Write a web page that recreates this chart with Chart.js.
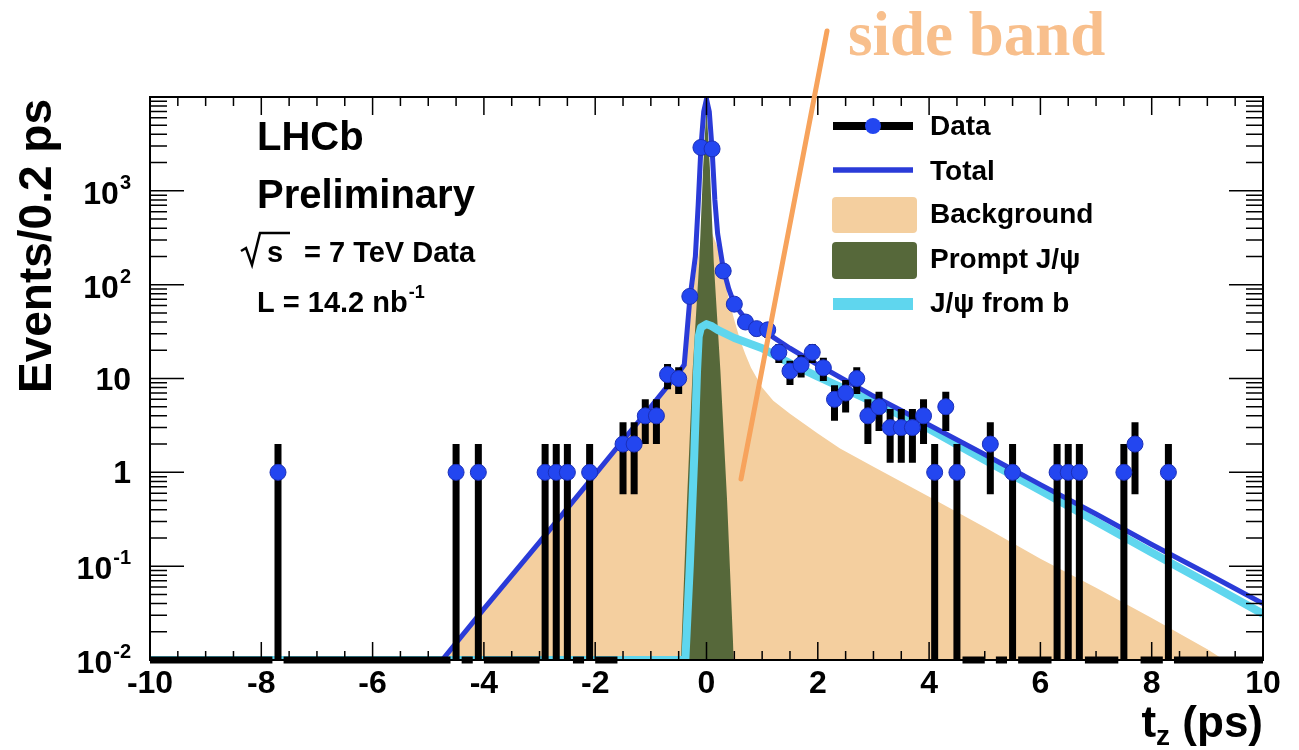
<!DOCTYPE html>
<html>
<head>
<meta charset="utf-8">
<script src="https://cdn.jsdelivr.net/npm/chart.js@4.4.0/dist/chart.umd.min.js"></script>
<style>
    html, body { margin: 0; padding: 0; background: #fff; }
    #wrap { width: 1299px; height: 750px; }
</style>
</head>
<body>
<div id="wrap"><canvas id="tzChart"></canvas></div>
<script>
// histogram of t_z: 100 bins of 0.2 ps between -10 and 10
let binLow = -10;
let binWidth = 0.2;
let counts = [
    0, 0, 0, 0, 0, 0, 0, 0, 0, 0,
    0, 1, 0, 0, 0, 0, 0, 0, 0, 0,
    0, 0, 0, 0, 0, 0, 0, 1, 0, 1,
    0, 0, 0, 0, 0, 1, 1, 1, 0, 1,
    0, 0, 2, 2, 4, 4, 11, 10, 75, 2900,
    2800, 140, 62, 40, 34, 33, 19, 12, 14, 19,
    13, 6, 7, 10, 4, 5, 3, 3, 3, 4,
    1, 5, 1, 0, 0, 2, 0, 1, 0, 0,
    0, 1, 1, 1, 0, 0, 0, 1, 2, 0,
    0, 1, 0, 0, 0, 0, 0, 0, 0, 0
];

// fit components, sampled along t_z (ps)
let tTotal = [-4.75, -4, -3, -2, -1.5, -1, -0.7, -0.5, -0.4, -0.3, -0.2, -0.15, -0.1, -0.05, 0, 0.05, 0.1, 0.15, 0.2, 0.3, 0.4, 0.5, 0.7, 1, 1.5, 2, 3, 4, 5, 6, 7, 8, 9, 10];
let total = [0.01, 0.035, 0.18, 0.95, 2.2, 5, 8.3, 11.5, 14, 70, 200, 700, 2900, 7000, 9500, 7000, 2800, 800, 350, 150, 90, 62, 43, 33, 21, 14, 6.5, 3.2, 1.55, 0.74, 0.36, 0.17, 0.083, 0.04];

let tBkg = [-4.75, -4, -3, -2, -1.5, -1, -0.7, -0.5, -0.4, -0.3, -0.2, -0.1, 0, 0.1, 0.2, 0.3, 0.4, 0.5, 0.6, 0.7, 0.8, 1, 1.2, 1.5, 2, 2.4, 3, 4, 5, 6, 7, 8, 9, 9.3];
let bkg = [0.01, 0.035, 0.18, 0.95, 2.2, 5, 8, 11.5, 13, 50, 130, 300, 400, 350, 250, 130, 70, 42, 26, 18, 13, 8, 5.8, 4.2, 2.6, 1.8, 1.15, 0.55, 0.26, 0.12, 0.059, 0.028, 0.013, 0.01];

let tPrompt = [-0.46, -0.35, -0.25, -0.13, -0.06, 0, 0.06, 0.13, 0.25, 0.37, 0.49];
let prompt = [0.01, 0.5, 12, 175, 1800, 8000, 1800, 175, 12, 0.5, 0.01];

let tFromB = [-10, -0.38, -0.3, -0.22, -0.17, -0.14, -0.1, 0, 0.1, 0.2, 0.5, 1, 1.5, 2, 3, 4, 5, 6, 7, 8, 9, 10];
let fromB = [0.01, 0.01, 0.1, 1.5, 12, 28, 35, 38, 36, 33, 27, 21, 14.5, 10.5, 5.6, 2.9, 1.35, 0.64, 0.3, 0.14, 0.066, 0.031];

// axis labels
let xTicks = [-10, -8, -6, -4, -2, 0, 2, 4, 6, 8, 10];
let yDecades = [-2, -1, 0, 1, 2, 3];

const FONT = "'Liberation Sans', Arial, Helvetica, sans-serif";
const BLUE = "#2a3bd8";
const MARKER = "#2346f0";
const TAN = "#f4cf9f";
const OLIVE = "#56683a";
const CYAN = "#5fd6ee";

function pts(xs, ys) {
    return xs.map((x, i) => ({ x: x, y: ys[i] }));
}

let binCenter = counts.map((c, i) => binLow + binWidth * (i + 0.5));
let dataPts = [];
counts.forEach((c, i) => { if (c > 0) dataPts.push({ x: binCenter[i], y: c }); });

// Poisson error bars, zero bins drawn along the floor
function drawErrorBars(chart) {
    const ctx = chart.ctx, a = chart.chartArea;
    const xs = chart.scales.x, ys = chart.scales.y;
    ctx.save();
    ctx.strokeStyle = "#000";
    ctx.lineWidth = 7;
    ctx.lineCap = "butt";
    ctx.beginPath();
    counts.forEach((n, i) => {
        let x0 = xs.getPixelForValue(binCenter[i] - binWidth / 2);
        let x1 = xs.getPixelForValue(binCenter[i] + binWidth / 2);
        let xc = xs.getPixelForValue(binCenter[i]);
        if (n === 0) {
            ctx.moveTo(x0, a.bottom);
            ctx.lineTo(x1, a.bottom);
            return;
        }
        let err = Math.sqrt(n);
        let lo = n - err > ys.min ? ys.getPixelForValue(n - err) : a.bottom;
        let hi = ys.getPixelForValue(n + err);
        let yc = ys.getPixelForValue(n);
        ctx.moveTo(xc, lo);
        ctx.lineTo(xc, hi);
        ctx.moveTo(x0, yc);
        ctx.lineTo(x1, yc);
    });
    ctx.stroke();
    ctx.restore();
}

function sizedFont(px) {
    return "bold " + px + "px " + FONT;
}

function drawYLabel(ctx, e, xRight, y) {
    ctx.textAlign = "right";
    ctx.textBaseline = "alphabetic";
    if (e === 0 || e === 1) {
        ctx.font = sizedFont(32);
        ctx.fillText(e === 0 ? "1" : "10", xRight, y + 11);
        return;
    }
    let sup = String(e);
    ctx.font = sizedFont(20);
    let w = ctx.measureText(sup).width;
    ctx.fillText(sup, xRight, y - 2);
    ctx.font = sizedFont(32);
    ctx.fillText("10", xRight - w - 1, y + 13);
}

const frame = {
    id: "frame",
    beforeDatasetDraw(chart, args) {
        if (args.index === 0) drawErrorBars(chart);
    },
    afterDraw(chart) {
        const ctx = chart.ctx, a = chart.chartArea;
        const xs = chart.scales.x, ys = chart.scales.y;
        ctx.save();

        // frame and ticks on all four sides
        ctx.strokeStyle = "#000";
        ctx.lineWidth = 2;
        ctx.strokeRect(a.left, a.top, a.right - a.left, a.bottom - a.top);
        ctx.lineWidth = 1.5;
        ctx.beginPath();
        for (let i = 0; i <= 40; i++) {
            let px = xs.getPixelForValue(-10 + i * 0.5);
            let len = i % 4 === 0 ? 18 : 9;
            ctx.moveTo(px, a.bottom); ctx.lineTo(px, a.bottom - len);
            ctx.moveTo(px, a.top); ctx.lineTo(px, a.top + len);
        }
        for (let e = -2; e <= 3; e++) {
            for (let m = 1; m <= 9; m++) {
                let py = ys.getPixelForValue(m * Math.pow(10, e));
                let len = m === 1 ? 34 : 17;
                ctx.moveTo(a.left, py); ctx.lineTo(a.left + len, py);
                ctx.moveTo(a.right, py); ctx.lineTo(a.right - len, py);
            }
        }
        ctx.stroke();

        // tick labels
        ctx.fillStyle = "#000";
        ctx.font = sizedFont(32);
        ctx.textAlign = "center";
        ctx.textBaseline = "alphabetic";
        xTicks.forEach(t => ctx.fillText(String(t), xs.getPixelForValue(t), a.bottom + 33));
        yDecades.forEach(e => drawYLabel(ctx, e, 131, ys.getPixelForValue(Math.pow(10, e))));

        // axis titles
        ctx.save();
        ctx.translate(51, (a.top + 395) / 2);
        ctx.rotate(-Math.PI / 2);
        ctx.font = sizedFont(46);
        ctx.textAlign = "center";
        ctx.fillText("Events/0.2 ps", 0, 0);
        ctx.restore();

        ctx.textAlign = "left";
        ctx.font = sizedFont(44);
        let wT = ctx.measureText("t").width;
        let wP = ctx.measureText(" (ps)").width;
        ctx.font = sizedFont(28);
        let wZ = ctx.measureText("z").width;
        let tx = a.right - (wT + wZ + wP);
        ctx.font = sizedFont(44);
        ctx.fillText("t", tx, 737);
        ctx.fillText(" (ps)", tx + wT + wZ, 737);
        ctx.font = sizedFont(28);
        ctx.fillText("z", tx + wT, 745);

        // experiment labels
        ctx.font = sizedFont(40);
        ctx.fillText("LHCb", 257, 150);
        ctx.fillText("Preliminary", 257, 208);
        ctx.font = sizedFont(29);
        ctx.fillText("s", 267, 262);
        ctx.fillText("= 7 TeV Data", 304, 262);
        ctx.lineWidth = 2.5;
        ctx.beginPath();
        ctx.moveTo(241, 251); ctx.lineTo(246, 248); ctx.lineTo(252, 265);
        ctx.lineTo(260, 233); ctx.lineTo(290, 233);
        ctx.stroke();
        ctx.fillText("L = 14.2 nb", 257, 312);
        let wL = ctx.measureText("L = 14.2 nb").width;
        ctx.font = sizedFont(18);
        ctx.fillText("-1", 257 + wL + 1, 298);

        // legend
        let lx0 = 833, lx1 = 913;
        ctx.lineCap = "butt";
        ctx.strokeStyle = "#000";
        ctx.lineWidth = 8;
        ctx.beginPath(); ctx.moveTo(lx0, 126); ctx.lineTo(lx1, 126); ctx.stroke();
        ctx.fillStyle = MARKER;
        ctx.beginPath(); ctx.arc(873, 126, 8, 0, Math.PI * 2); ctx.fill();
        ctx.strokeStyle = BLUE;
        ctx.lineWidth = 5.5;
        ctx.beginPath(); ctx.moveTo(lx0, 170); ctx.lineTo(lx1, 170); ctx.stroke();
        ctx.fillStyle = TAN;
        ctx.beginPath(); ctx.roundRect(832, 197, 85, 36, 4); ctx.fill();
        ctx.fillStyle = OLIVE;
        ctx.beginPath(); ctx.roundRect(832, 242, 85, 37, 4); ctx.fill();
        ctx.strokeStyle = CYAN;
        ctx.lineWidth = 12;
        ctx.beginPath(); ctx.moveTo(lx0, 304); ctx.lineTo(lx1, 304); ctx.stroke();

        ctx.fillStyle = "#000";
        ctx.font = sizedFont(28);
        ctx.fillText("Data", 930, 135);
        ctx.fillText("Total", 930, 180);
        ctx.fillText("Background", 930, 223);
        ctx.fillText("Prompt J/\u03c8", 930, 268);
        ctx.fillText("J/\u03c8 from b", 930, 312);

        // side band annotation
        ctx.strokeStyle = "#f7a35c";
        ctx.lineWidth = 5;
        ctx.lineCap = "round";
        ctx.beginPath();
        ctx.moveTo(827, 31);
        ctx.lineTo(xs.getPixelForValue(0.62), ys.getPixelForValue(0.85));
        ctx.stroke();
        ctx.fillStyle = "#f8bf8c";
        ctx.font = "bold 63px 'Liberation Serif', 'Times New Roman', serif";
        ctx.fillText("side band", 848, 55);

        ctx.restore();
    }
};

new Chart(document.getElementById("tzChart"), {
    type: "scatter",
    data: {
        datasets: [
            {
                label: "Data",
                data: dataPts,
                order: 0,
                clip: false,
                pointRadius: 8,
                pointBackgroundColor: MARKER,
                pointBorderColor: "#1b2fb8",
                pointBorderWidth: 1
            },
            {
                label: "Total",
                data: pts(tTotal, total),
                order: 1,
                showLine: true,
                borderColor: BLUE,
                borderWidth: 5,
                pointRadius: 0,
                tension: 0
            },
            {
                label: "J/\u03c8 from b",
                data: pts(tFromB, fromB),
                order: 2,
                showLine: true,
                borderColor: CYAN,
                borderWidth: 8,
                borderJoinStyle: "round",
                pointRadius: 0,
                tension: 0
            },
            {
                label: "Prompt J/\u03c8",
                data: pts(tPrompt, prompt),
                order: 3,
                showLine: true,
                borderColor: OLIVE,
                borderWidth: 0,
                backgroundColor: OLIVE,
                fill: "start",
                pointRadius: 0,
                tension: 0
            },
            {
                label: "Background",
                data: pts(tBkg, bkg),
                order: 4,
                showLine: true,
                borderColor: TAN,
                borderWidth: 0,
                backgroundColor: TAN,
                fill: "start",
                pointRadius: 0,
                tension: 0
            }
        ]
    },
    options: {
        responsive: true,
        maintainAspectRatio: false,
        animation: false,
        layout: { padding: { left: 150, right: 36, top: 97, bottom: 90 } },
        scales: {
            x: { type: "linear", min: -10, max: 10, display: false },
            y: { type: "logarithmic", min: 0.01, max: 10000, display: false }
        },
        plugins: {
            legend: { display: false },
            tooltip: { enabled: false }
        }
    },
    plugins: [frame]
});
</script>
</body>
</html>
